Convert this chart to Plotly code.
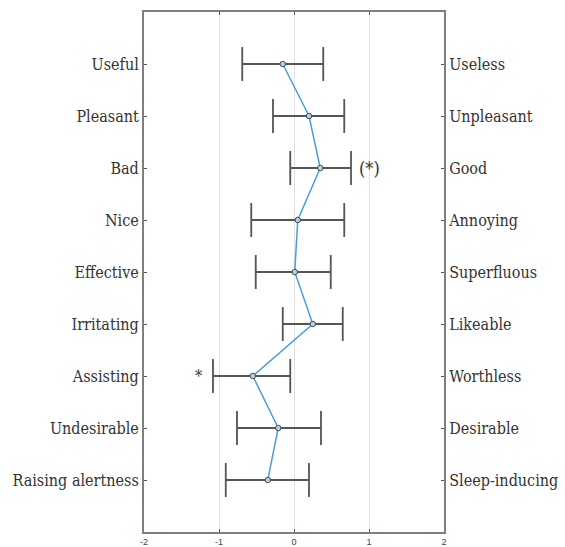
import plotly.graph_objects as go

left_labels = ["Useful", "Pleasant", "Bad", "Nice", "Effective", "Irritating",
               "Assisting", "Undesirable", "Raising alertness"]
right_labels = ["Useless", "Unpleasant", "Good", "Annoying", "Superfluous", "Likeable",
                "Worthless", "Desirable", "Sleep-inducing"]
means = [-0.15, 0.20, 0.35, 0.05, 0.01, 0.25, -0.55, -0.21, -0.35]
lower = [-0.69, -0.28, -0.05, -0.57, -0.51, -0.15, -1.08, -0.76, -0.91]
upper = [0.39, 0.67, 0.76, 0.67, 0.49, 0.65, -0.05, 0.36, 0.20]
x_ticks = [-2, -1, 0, 1, 2]

idx = list(range(len(left_labels)))
plus = [u - m for u, m in zip(upper, means)]
minus = [m - l for m, l in zip(means, lower)]

fig = go.Figure()
fig.add_trace(go.Scatter(
    x=means, y=idx, mode="lines+markers",
    line=dict(color="#4a9fd8", width=1.5),
    marker=dict(size=5.5, color="#b5d0e4", line=dict(color="#4a4a4a", width=1)),
    error_x=dict(type="data", symmetric=False, array=plus, arrayminus=minus,
                 color="#555555", thickness=1.8, width=17),
    showlegend=False, hoverinfo="skip",
))
fig.add_trace(go.Scatter(x=[None], y=[None], yaxis="y2", showlegend=False))

serif = "DejaVu Serif Condensed"
fig.update_layout(
    width=565, height=547,
    margin=dict(l=144, r=121, t=12, b=15),
    plot_bgcolor="white", paper_bgcolor="white",
    xaxis=dict(range=[-2, 2], tickvals=x_ticks, ticktext=[str(t) for t in x_ticks],
               showgrid=True, gridcolor="#e2e2e2", gridwidth=1, zeroline=False,
               showline=True, linecolor="#7f7f7f", linewidth=2, mirror="ticks",
               ticks="inside", ticklen=3, tickcolor="#555555", automargin=False,
               tickfont=dict(family="Arial, Liberation Sans", size=9, color="#444444")),
    yaxis=dict(range=[9, -1], tickvals=idx, ticktext=left_labels, automargin=False,
               showgrid=False, zeroline=False, showline=True, linecolor="#7f7f7f",
               linewidth=2, ticks="inside", ticklen=3, tickcolor="#555555",
               tickfont=dict(family=serif, size=16, color="#333333")),
    yaxis2=dict(range=[9, -1], tickvals=idx, ticktext=right_labels, overlaying="y",
                side="right", showgrid=False, zeroline=False, showline=True,
                linecolor="#7f7f7f", linewidth=2, ticks="inside", ticklen=3,
                tickcolor="#555555", automargin=False,
                tickfont=dict(family=serif, size=16, color="#333333")),
    annotations=[
        dict(x=1.01, y=2, xref="x", yref="y", text="(*)", showarrow=False,
             font=dict(family=serif, size=18, color="#333333")),
        dict(x=-1.27, y=6, xref="x", yref="y", text="*", showarrow=False,
             font=dict(family=serif, size=16, color="#333333")),
    ],
)

fig.write_html("out.html")
